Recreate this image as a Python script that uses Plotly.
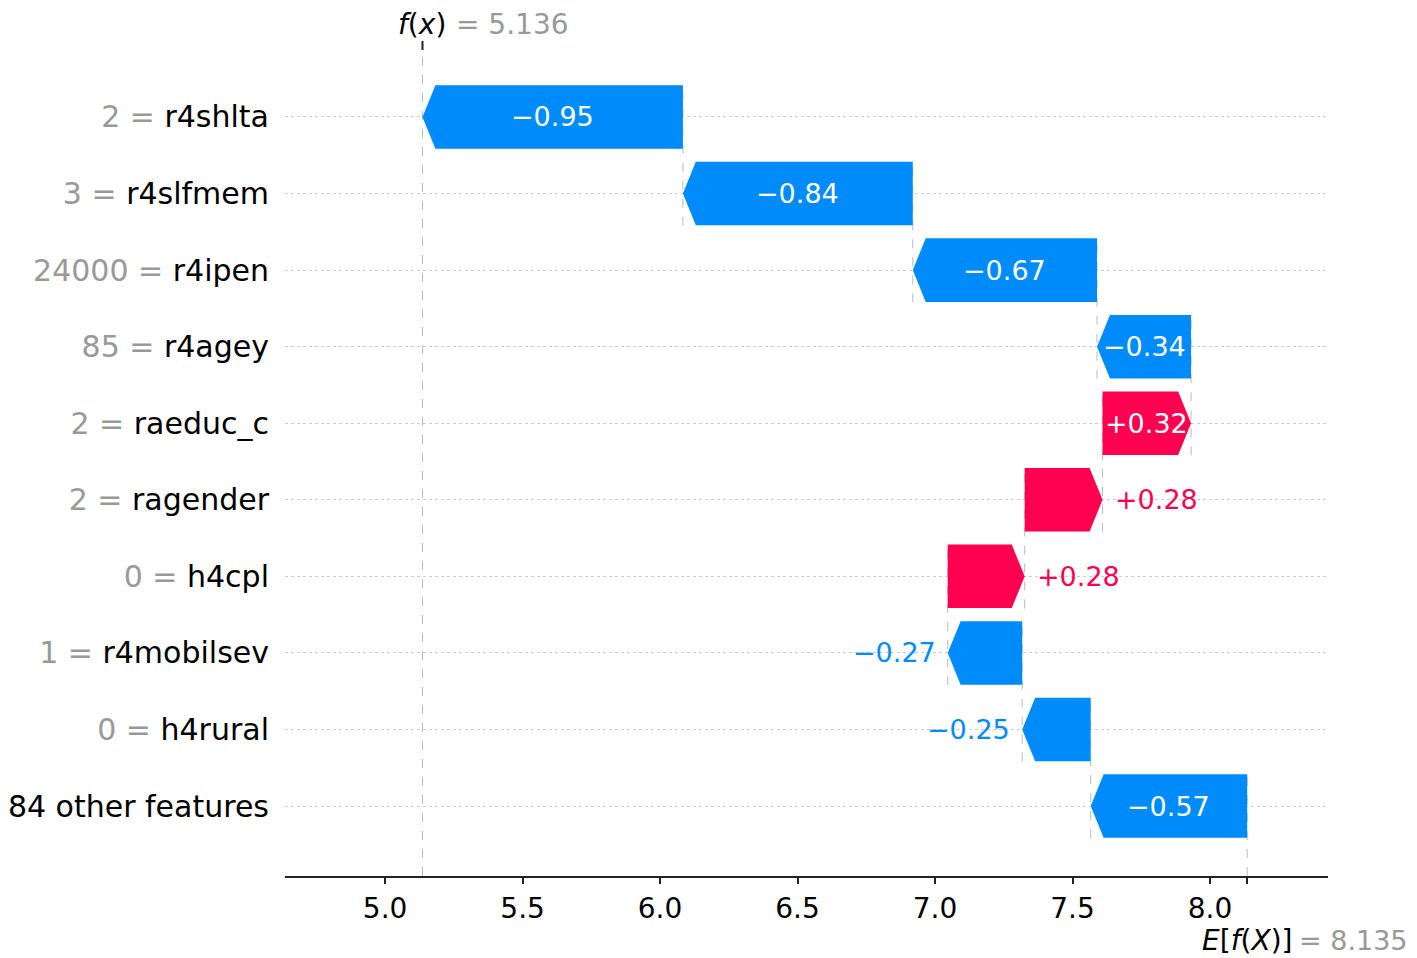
import plotly.graph_objects as go

# SHAP waterfall: one prediction explained from the base value up
base_value = 8.135
features = ["r4shlta", "r4slfmem", "r4ipen", "r4agey", "raeduc_c",
            "ragender", "h4cpl", "r4mobilsev", "h4rural", "84 other features"]
feature_values = ["2", "3", "24000", "85", "2", "2", "0", "1", "0", ""]
shap_values = [-0.947, -0.836, -0.670, -0.342, 0.322,
               0.283, 0.280, -0.271, -0.249, -0.569]
x_ticks = [5.0, 5.5, 6.0, 6.5, 7.0, 7.5, 8.0]

BLUE = "#008bfb"
RED = "#ff0051"
GRAY = "#999999"
FONT = "DejaVu Sans"

n = len(features)
rows = list(range(n - 1, -1, -1))  # first feature on top

# walk from the base value (bottom row) up to f(x)
starts = [0.0] * n
ends = [0.0] * n
loc = base_value
for i in range(n - 1, -1, -1):
    starts[i] = loc
    loc = loc + shap_values[i]
    ends[i] = loc
fx = loc

bar_h = 0.83
head = 0.047

fig = go.Figure()

# dashed connectors
dash_line = dict(color="#bbbbbb", width=1, dash="dash")
fig.add_shape(type="line", x0=fx, x1=fx, y0=-0.914, y1=9.875, line=dash_line, layer="below")
fig.add_shape(type="line", x0=base_value, x1=base_value, y0=-0.914, y1=0.4, line=dash_line, layer="below")
for i in range(n - 1):
    fig.add_shape(type="line", x0=starts[i], x1=starts[i],
                  y0=rows[i + 1] - 0.42, y1=rows[i] + 0.42, line=dash_line, layer="below")

# arrows
for i in range(n):
    s, e, y = starts[i], ends[i], rows[i]
    d = 1 if e > s else -1
    hl = min(head, abs(e - s))
    xs = [s, e - d * hl, e, e - d * hl, s, s]
    ys = [y + bar_h / 2, y + bar_h / 2, y, y - bar_h / 2, y - bar_h / 2, y + bar_h / 2]
    col = RED if shap_values[i] > 0 else BLUE
    fig.add_trace(go.Scatter(x=xs, y=ys, mode="lines", fill="toself",
                             fillcolor=col, line=dict(width=0, color=col),
                             hoverinfo="skip", showlegend=False))

    v = shap_values[i]
    txt = ("+" if v > 0 else "\u2212") + f"{abs(v):.2f}"
    if abs(v) > 0.3:
        fig.add_annotation(x=(s + e) / 2, y=y, text=txt, showarrow=False,
                           xanchor="center", font=dict(size=27, color="white", family=FONT))
    elif v > 0:
        fig.add_annotation(x=e, y=y, text=txt, showarrow=False, xanchor="left", xshift=10,
                           font=dict(size=27, color=col, family=FONT))
    else:
        fig.add_annotation(x=e, y=y, text=txt, showarrow=False, xanchor="right", xshift=-10,
                           font=dict(size=27, color=col, family=FONT))

ticktext = []
for f, fv in zip(features, feature_values):
    if fv:
        ticktext.append(f"<span style='color:{GRAY}'>{fv} = </span>{f}")
    else:
        ticktext.append(f)

# f(x) and E[f(X)] labels
fig.add_shape(type="line", x0=fx, x1=fx, xref="x", yref="paper", y0=1, y1=1.011,
              line=dict(color="#222222", width=2))
fig.add_annotation(x=fx, y=1, xref="x", yref="paper", yshift=26, yanchor="middle",
                   text="<i>f</i>(<i>x</i>)", showarrow=False, xanchor="center", borderpad=0,
                   font=dict(size=28, color="black", family=FONT))
fig.add_annotation(x=fx, y=1, xref="x", yref="paper", yshift=26, yanchor="middle", xshift=33,
                   text=f"= {fx:.3f}", showarrow=False, xanchor="left", borderpad=0,
                   font=dict(size=28, color=GRAY, family=FONT))
fig.add_annotation(x=base_value, y=0, xref="x", yref="paper", yshift=-64, yanchor="middle",
                   text="<i>E</i>[<i>f</i>(<i>X</i>)]", showarrow=False, xanchor="center", borderpad=0,
                   font=dict(size=28, color="black", family=FONT))
fig.add_annotation(x=base_value, y=0, xref="x", yref="paper", yshift=-64, yanchor="middle", xshift=51,
                   text=f"= {base_value:.3f}", showarrow=False, xanchor="left", borderpad=0,
                   font=dict(size=27, color=GRAY, family=FONT))

# page body adds an 8px margin, so the figure is offset a little in the window
fig.update_layout(
    width=1401, height=950,
    margin=dict(l=277, r=81, t=42, b=82),
    plot_bgcolor="white", paper_bgcolor="white",
    font=dict(family=FONT, color="black"),
    xaxis=dict(range=[4.636, 8.429], tickvals=x_ticks + [base_value],
               ticktext=[f"{t:.1f}" for t in x_ticks] + [""],
               ticks="outside", ticklen=6, tickwidth=2, tickcolor="#222222",
               showline=True, linecolor="#222222", linewidth=2,
               showgrid=False, zeroline=False, tickfont=dict(size=28),
               automargin=False),
    yaxis=dict(range=[-0.914, 9.875], tickvals=rows, ticktext=ticktext,
               showgrid=True, gridcolor="#cccccc", griddash="dot", gridwidth=1,
               zeroline=False, showline=False, ticks="", automargin=False,
               ticklabelstandoff=15, tickfont=dict(size=30, color="black")),
)

fig.write_html("out.html")
